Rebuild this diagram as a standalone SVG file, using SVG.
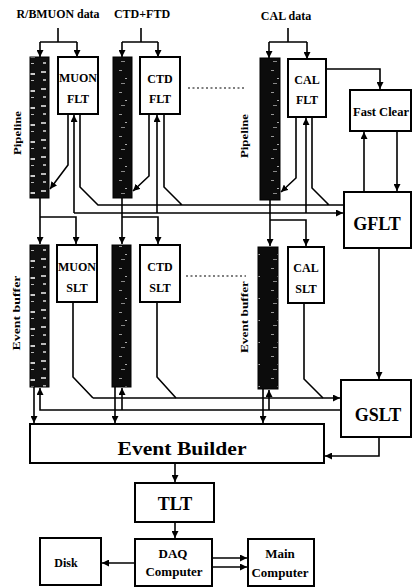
<svg xmlns="http://www.w3.org/2000/svg" width="412" height="587" viewBox="0 0 412 587">
<style>
.box{fill:#fff;stroke:#000;stroke-width:2}
.ln{fill:none;stroke:#000;stroke-width:1.6}
.ar{marker-end:url(#ah)}
.t{font-family:"Liberation Serif","Times New Roman",serif;font-weight:bold;fill:#000;text-anchor:middle}
.dot{fill:none;stroke:#000;stroke-width:1.2;stroke-dasharray:2 2.5}
.pa{fill:url(#pA);stroke:#000;stroke-width:1}
.pb{fill:url(#pB);stroke:#000;stroke-width:1}
</style>
<defs>
<marker id="ah" viewBox="0 0 10 10" refX="10" refY="5" markerWidth="7" markerHeight="7" orient="auto" markerUnits="userSpaceOnUse"><path d="M0,0 L10,5 L0,10 z" fill="#000"/></marker>
<pattern id="pA" patternUnits="userSpaceOnUse" width="19" height="17"><rect width="19" height="17" fill="#111"/><rect x="3" y="3" width="5" height="2" fill="#bbb"/><rect x="11" y="5" width="5" height="2" fill="#ccc"/><rect x="5" y="11" width="3" height="2" fill="#aaa"/><rect x="12" y="12" width="3" height="1" fill="#bbb"/></pattern>
<pattern id="pB" patternUnits="userSpaceOnUse" width="19" height="22"><rect width="19" height="22" fill="#0c0c0c"/><rect x="5" y="4" width="3" height="1" fill="#999"/><rect x="11" y="12" width="2" height="1" fill="#aaa"/><rect x="7" y="17" width="4" height="1" fill="#888"/></pattern>
</defs>
<rect width="412" height="587" fill="#fff"/>

<g id="labels">
<text class="t" x="58" y="18" font-size="12" textLength="83" lengthAdjust="spacingAndGlyphs">R/BMUON data</text>
<text class="t" x="142" y="18" font-size="12">CTD+FTD</text>
<text class="t" x="286" y="20" font-size="12">CAL data</text>
<text class="t" font-size="11" textLength="44" lengthAdjust="spacingAndGlyphs" transform="translate(21,133) rotate(-90)">Pipeline</text>
<text class="t" font-size="11" textLength="44" lengthAdjust="spacingAndGlyphs" transform="translate(248,136) rotate(-90)">Pipeline</text>
<text class="t" font-size="11" textLength="75" lengthAdjust="spacingAndGlyphs" transform="translate(20,313) rotate(-90)">Event buffer</text>
<text class="t" font-size="11" textLength="72" lengthAdjust="spacingAndGlyphs" transform="translate(248,317) rotate(-90)">Event buffer</text>
</g>

<g id="connectors">
<path class="ln" d="M58,28 V42 M40,42 H77 M141,28 V42 M122,42 H158 M288,28 V42 M269,42 H307"/>
<path class="ln ar" d="M40,42 V57"/>
<path class="ln ar" d="M77,42 V57"/>
<path class="ln ar" d="M122,42 V57"/>
<path class="ln ar" d="M158,42 V57"/>
<path class="ln ar" d="M269,42 V58"/>
<path class="ln ar" d="M307,42 V59"/>
<path class="ln ar" d="M326,69 H380 V89"/>
<path class="ln ar" d="M364,192 V132"/>
<path class="ln ar" d="M397,131 V191"/>
<path class="ln ar" d="M68,114 V165 L50,189"/>
<path class="ln ar" d="M149,114 V176 L133,191"/>
<path class="ln ar" d="M296,117 V178 L281,192"/>
<path class="ln" d="M80,114 V187 L98,205 H344 M164,114 V187 L182,205 M312,117 V188 L329,205"/>
<path class="ln ar" d="M74,213 H343"/>
<path class="ln ar" d="M74,213 V115"/>
<path class="ln ar" d="M157,213 V115"/>
<path class="ln ar" d="M306,213 V118"/>
<path class="ln ar" d="M40,198 V244"/>
<path class="ln ar" d="M40,217 H76 V244"/>
<path class="ln ar" d="M122,198 V244"/>
<path class="ln ar" d="M122,217 H158 V244"/>
<path class="ln ar" d="M270,200 V246"/>
<path class="ln ar" d="M270,220 H306 V246"/>
<path class="dot" d="M188,88 H246 M186,276 H246"/>
<path class="ln" d="M73,302 V377 L93,398 M157,302 V377 L176,398 M304,303 V379 L323,398"/>
<path class="ln ar" d="M93,398 H340"/>
<path class="ln ar" d="M341,410 H40 V388"/>
<path class="ln ar" d="M122,410 V388"/>
<path class="ln ar" d="M269,410 V390"/>
<path class="ln ar" d="M34,387 V423"/>
<path class="ln ar" d="M115,387 V423"/>
<path class="ln ar" d="M263,389 V423"/>
<path class="ln ar" d="M379,248 V379"/>
<path class="ln ar" d="M379,437 V456 H325"/>
<path class="ln ar" d="M175,463 V482"/>
<path class="ln ar" d="M175,522 V538"/>
<path class="ln ar" d="M135,563 H102"/>
<path class="ln ar" d="M212,558 H247"/>
<path class="ln ar" d="M212,567 H247"/>
</g>

<g id="pipe1"><rect class="pa" x="30" y="57" width="19" height="141"/></g>
<g id="muonflt"><rect class="box" x="58" y="57" width="40" height="57"/><text class="t" x="78" y="82" font-size="12">MUON</text><text class="t" x="78" y="103" font-size="12">FLT</text></g>
<g id="pipe2"><rect class="pb" x="113" y="57" width="19" height="141"/></g>
<g id="ctdflt"><rect class="box" x="140" y="57" width="40" height="57"/><text class="t" x="160" y="83" font-size="12">CTD</text><text class="t" x="160" y="103" font-size="12">FLT</text></g>
<g id="pipe3"><rect class="pb" x="260" y="58" width="20" height="142"/></g>
<g id="calflt"><rect class="box" x="288" y="59" width="38" height="58"/><text class="t" x="307" y="84" font-size="12">CAL</text><text class="t" x="307" y="104" font-size="12">FLT</text></g>
<g id="fastclear"><rect class="box" x="350" y="90" width="61" height="41"/><text class="t" x="381" y="116" font-size="12.5" textLength="56" lengthAdjust="spacingAndGlyphs">Fast Clear</text></g>
<g id="gflt"><rect class="box" x="344" y="192" width="67" height="56"/><text class="t" x="377" y="230" font-size="18">GFLT</text></g>
<g id="evbuf1"><rect class="pa" x="30" y="245" width="19" height="142"/></g>
<g id="muonslt"><rect class="box" x="57" y="245" width="40" height="57"/><text class="t" x="77" y="271" font-size="12">MUON</text><text class="t" x="77" y="292" font-size="12">SLT</text></g>
<g id="evbuf2"><rect class="pb" x="112" y="245" width="19" height="142"/></g>
<g id="ctdslt"><rect class="box" x="140" y="245" width="40" height="57"/><text class="t" x="160" y="271" font-size="12">CTD</text><text class="t" x="160" y="292" font-size="12">SLT</text></g>
<g id="evbuf3"><rect class="pb" x="258" y="247" width="20" height="142"/></g>
<g id="calslt"><rect class="box" x="288" y="247" width="36" height="56"/><text class="t" x="306" y="272" font-size="12">CAL</text><text class="t" x="306" y="293" font-size="12">SLT</text></g>
<g id="gslt"><rect class="box" x="341" y="380" width="70" height="57"/><text class="t" x="378" y="421" font-size="18">GSLT</text></g>
<g id="eventbuilder"><rect class="box" x="30" y="424" width="294" height="39"/><text class="t" x="182" y="455" font-size="19" textLength="129" lengthAdjust="spacingAndGlyphs">Event Builder</text></g>
<g id="tlt"><rect class="box" x="135" y="483" width="79" height="39"/><text class="t" x="175" y="510" font-size="18">TLT</text></g>
<g id="daq"><rect class="box" x="135" y="539" width="77" height="47"/><text class="t" x="173" y="558" font-size="13">DAQ</text><text class="t" x="174" y="576" font-size="13">Computer</text></g>
<g id="disk"><rect class="box" x="40" y="538" width="61" height="47"/><text class="t" x="66" y="567" font-size="12">Disk</text></g>
<g id="maincomputer"><rect class="box" x="248" y="539" width="66" height="47"/><text class="t" x="280" y="558" font-size="13">Main</text><text class="t" x="280" y="577" font-size="13">Computer</text></g>
</svg>
